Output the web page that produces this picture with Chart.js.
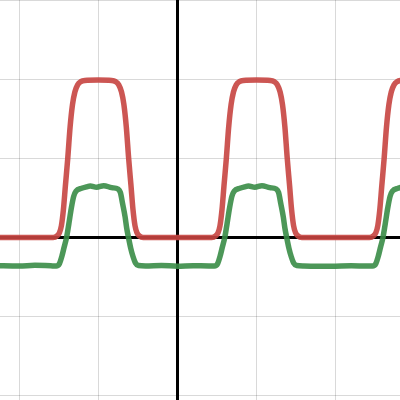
<!DOCTYPE html>
<html>
<head>
<meta charset="utf-8">
<script src="https://cdn.jsdelivr.net/npm/chart.js@4.4.0/dist/chart.umd.min.js"></script>
<style>
  html, body { margin: 0; padding: 0; background: #ffffff; }
  #c { display: block; }
</style>
</head>
<body>
<canvas id="c" width="400" height="400"></canvas>
<script>
// ---- data ----
const redX = [-2.3, -1.8, -1.57, -1.52, -1.49, -1.465, -1.44, -1.415, -1.385, -1.355, -1.325, -1.295, -1.26, -1.22, -1.17, -1.0, -0.83, -0.78, -0.74, -0.705, -0.675, -0.645, -0.615, -0.585, -0.56, -0.535, -0.51, -0.48, -0.43, 0.0, 0.435, 0.485, 0.515, 0.54, 0.565, 0.59, 0.62, 0.65, 0.68, 0.71, 0.745, 0.785, 0.835, 1.005, 1.175, 1.225, 1.265, 1.30, 1.33, 1.36, 1.39, 1.42, 1.445, 1.47, 1.495, 1.525, 1.575, 2.0, 2.43, 2.48, 2.51, 2.535, 2.56, 2.585, 2.615, 2.645, 2.675, 2.705, 2.74, 2.78, 2.83, 2.95];
const redY = [0, 0, 0, 0.02, 0.06, 0.15, 0.35, 0.65, 1.0, 1.4, 1.68, 1.84, 1.93, 1.97, 1.985, 1.99, 1.985, 1.97, 1.93, 1.84, 1.68, 1.4, 1.0, 0.65, 0.35, 0.15, 0.06, 0.02, 0, 0, 0, 0.02, 0.06, 0.15, 0.35, 0.65, 1.0, 1.4, 1.68, 1.84, 1.93, 1.97, 1.985, 1.99, 1.985, 1.97, 1.93, 1.84, 1.68, 1.4, 1.0, 0.65, 0.35, 0.15, 0.06, 0.02, 0, 0, 0, 0.02, 0.06, 0.15, 0.35, 0.65, 1.0, 1.4, 1.68, 1.84, 1.93, 1.97, 1.985, 1.99];

const greenX = [-2.3, -2.0, -1.8, -1.6, -1.53, -1.49, -1.46, -1.43, -1.40, -1.37, -1.34, -1.31, -1.28, -1.21, -1.15, -1.10, -1.02, -0.93, -0.83, -0.75, -0.72, -0.69, -0.66, -0.64, -0.617, -0.59, -0.56, -0.53, -0.49, -0.4, -0.2, 0.0, 0.2, 0.4, 0.47, 0.51, 0.54, 0.57, 0.60, 0.63, 0.66, 0.69, 0.72, 0.79, 0.85, 0.90, 0.98, 1.07, 1.17, 1.25, 1.28, 1.31, 1.34, 1.36, 1.383, 1.41, 1.44, 1.47, 1.51, 1.6, 1.8, 2.0, 2.2, 2.4, 2.47, 2.51, 2.54, 2.57, 2.60, 2.63, 2.66, 2.69, 2.72, 2.79, 2.85, 2.90];
const greenY = [-0.355, -0.36, -0.352, -0.358, -0.36, -0.33, -0.24, -0.12, 0.0, 0.18, 0.37, 0.52, 0.585, 0.622, 0.64, 0.651, 0.635, 0.655, 0.63, 0.613, 0.57, 0.42, 0.26, 0.12, 0.0, -0.13, -0.24, -0.32, -0.355, -0.36, -0.355, -0.362, -0.356, -0.36, -0.36, -0.33, -0.24, -0.12, 0.0, 0.18, 0.37, 0.52, 0.585, 0.622, 0.64, 0.651, 0.635, 0.655, 0.63, 0.613, 0.57, 0.42, 0.26, 0.12, 0.0, -0.13, -0.24, -0.32, -0.355, -0.36, -0.365, -0.362, -0.358, -0.36, -0.36, -0.33, -0.24, -0.12, 0.0, 0.18, 0.37, 0.52, 0.585, 0.622, 0.64, 0.651];

const xTicks = [-2, -1, 0, 1, 2];
const yTicks = [-2, -1, 0, 1, 2, 3];

// ---- chart ----
const toPts = (xs, ys) => xs.map((x, i) => ({ x: x, y: ys[i] }));
const gridGray = 'rgba(0,0,0,0.15)';
const gridColor = (ctx) => (ctx.tick && ctx.tick.value === 0) ? '#000000' : gridGray;
const gridWidth = (ctx) => (ctx.tick && ctx.tick.value === 0) ? 3 : 1;

new Chart(document.getElementById('c'), {
  type: 'line',
  data: {
    datasets: [
      {
        data: toPts(greenX, greenY),
        borderColor: 'rgba(56,140,70,0.9)',
        borderWidth: 5.5,
        pointRadius: 0,
        cubicInterpolationMode: 'monotone',
        borderCapStyle: 'round',
        borderJoinStyle: 'round',
        fill: false,
        order: 0
      },
      {
        data: toPts(redX, redY),
        borderColor: 'rgba(199,68,64,0.9)',
        borderWidth: 5.5,
        pointRadius: 0,
        cubicInterpolationMode: 'monotone',
        borderCapStyle: 'round',
        borderJoinStyle: 'round',
        fill: false,
        order: 1
      }
    ]
  },
  options: {
    responsive: false,
    devicePixelRatio: 1,
    animation: false,
    layout: { padding: 0 },
    plugins: { legend: { display: false }, tooltip: { enabled: false } },
    scales: {
      x: {
        type: 'linear',
        min: -2.2415,
        max: 2.8155,
        afterBuildTicks: (s) => { s.ticks = xTicks.map(v => ({ value: v })); },
        ticks: { display: false },
        border: { display: false },
        grid: { drawTicks: false, color: gridColor, lineWidth: gridWidth }
      },
      y: {
        type: 'linear',
        min: -2.0544,
        max: 3.0025,
        afterBuildTicks: (s) => { s.ticks = yTicks.map(v => ({ value: v })); },
        ticks: { display: false },
        border: { display: false },
        grid: { drawTicks: false, color: gridColor, lineWidth: gridWidth }
      }
    }
  }
});
</script>
</body>
</html>
